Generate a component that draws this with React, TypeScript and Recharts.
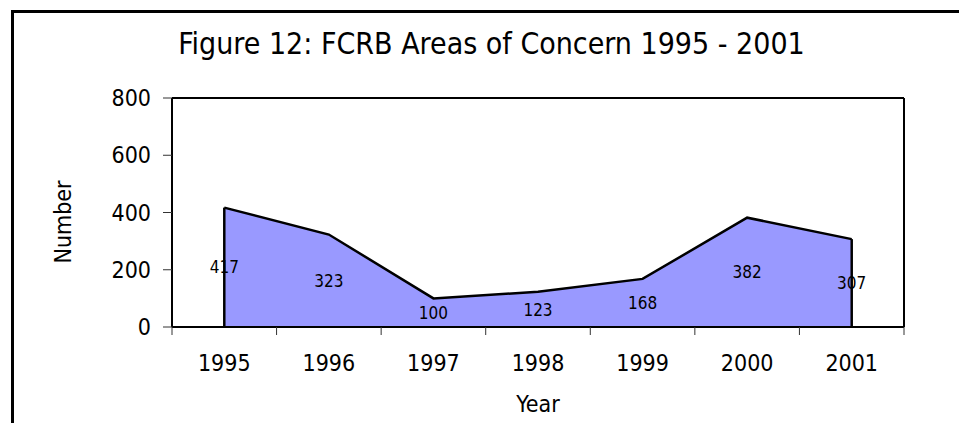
import React from 'react';
import {
  ComposedChart,
  Area,
  XAxis,
  YAxis,
  LabelList,
  ReferenceLine,
  Label,
} from 'recharts';

const years = ['1995', '1996', '1997', '1998', '1999', '2000', '2001'];
const concerns = [417, 323, 100, 123, 168, 382, 307];
const yTicks = [0, 200, 400, 600, 800];

const data = years.map((year, i) => ({ year, value: concerns[i] }));

const W = 959;
const H = 423;
const LEFT = 172;
const RIGHT_W = 55;
const TOP = 98;
const XAXIS_H = 96;
const PLOT_W = W - LEFT - RIGHT_W;
const BASE_Y = H - XAXIS_H;
const HALF_BAND = PLOT_W / years.length / 2;
const FONT = "'DejaVu Sans Condensed', 'DejaVu Sans', sans-serif";

const XTick = (props: any) => {
  const { x, index, payload } = props;
  const last = index === years.length - 1;
  return (
    <g>
      <line x1={x - HALF_BAND} x2={x - HALF_BAND} y1={BASE_Y} y2={BASE_Y + 8} stroke="#333" strokeWidth={1} />
      {last && (
        <line x1={x + HALF_BAND} x2={x + HALF_BAND} y1={BASE_Y} y2={BASE_Y + 8} stroke="#333" strokeWidth={1} />
      )}
      <text x={x} y={BASE_Y + 36} dy="0.36em" textAnchor="middle" fontFamily={FONT} fontSize={23} fill="#000">
        {payload.value}
      </text>
    </g>
  );
};

const MidLabel = (props: any) => {
  const { x, y, value } = props;
  return (
    <text x={x} y={(y + BASE_Y) / 2} dy="0.36em" textAnchor="middle" fontFamily={FONT} fontSize={17} fill="#000">
      {value}
    </text>
  );
};

export default function App() {
  return (
    <div style={{ position: 'fixed', left: 0, top: 0, width: W, height: H, overflow: 'hidden', background: '#fff' }}>
      <div
        style={{
          position: 'absolute',
          left: 11,
          top: 10,
          width: 2000,
          height: 2000,
          border: '3px solid #000',
          boxSizing: 'border-box',
        }}
      />
      <div
        style={{
          position: 'absolute',
          left: 0,
          width: 983,
          top: 44 - 20,
          height: 40,
          lineHeight: '40px',
          textAlign: 'center',
          fontFamily: FONT,
          fontSize: 30,
          color: '#000',
          whiteSpace: 'nowrap',
        }}
      >
        Figure 12: FCRB Areas of Concern 1995 - 2001
      </div>
      <div style={{ position: 'absolute', left: 0, top: 0 }}>
        <ComposedChart width={W} height={H} data={data} margin={{ top: TOP, right: 0, bottom: 0, left: 0 }}>
          <XAxis
            dataKey="year"
            scale="band"
            height={XAXIS_H}
            tickLine={false}
            axisLine={{ stroke: '#000', strokeWidth: 2 }}
            tick={<XTick />}
            interval={0}
          >
            <Label
              content={() => (
                <text x={LEFT + PLOT_W / 2} y={404} dy="0.36em" textAnchor="middle" fontFamily={FONT} fontSize={23} fill="#000">
                  Year
                </text>
              )}
            />
          </XAxis>
          <YAxis
            width={LEFT}
            domain={[0, 800]}
            ticks={yTicks}
            interval={0}
            tickSize={9}
            tickMargin={12}
            tickLine={{ stroke: '#333', strokeWidth: 1 }}
            axisLine={{ stroke: '#000', strokeWidth: 2 }}
            tick={{ fontFamily: FONT, fontSize: 23, fill: '#000' }}
          >
            <Label
              content={() => (
                <text
                  x={63}
                  y={222}
                  dy="0.36em"
                  textAnchor="middle"
                  fontFamily={FONT}
                  fontSize={23}
                  fill="#000"
                  transform="rotate(-90, 63, 222)"
                >
                  Number
                </text>
              )}
            />
          </YAxis>
          <YAxis
            yAxisId="right"
            orientation="right"
            width={RIGHT_W}
            domain={[0, 800]}
            tick={false}
            tickLine={false}
            axisLine={{ stroke: '#000', strokeWidth: 2 }}
          />
          <ReferenceLine y={800} stroke="#000" strokeWidth={2} />
          <Area
            type="linear"
            dataKey="value"
            fill="#9999FF"
            fillOpacity={1}
            stroke="#000"
            strokeWidth={2.5}
            isAnimationActive={false}
          >
            <LabelList dataKey="value" content={<MidLabel />} />
          </Area>
          <ReferenceLine
            segment={[
              { x: years[0], y: 0 },
              { x: years[0], y: concerns[0] },
            ]}
            stroke="#000"
            strokeWidth={2.5}
          />
          <ReferenceLine
            segment={[
              { x: years[years.length - 1], y: 0 },
              { x: years[years.length - 1], y: concerns[concerns.length - 1] },
            ]}
            stroke="#000"
            strokeWidth={2.5}
          />
        </ComposedChart>
      </div>
    </div>
  );
}
